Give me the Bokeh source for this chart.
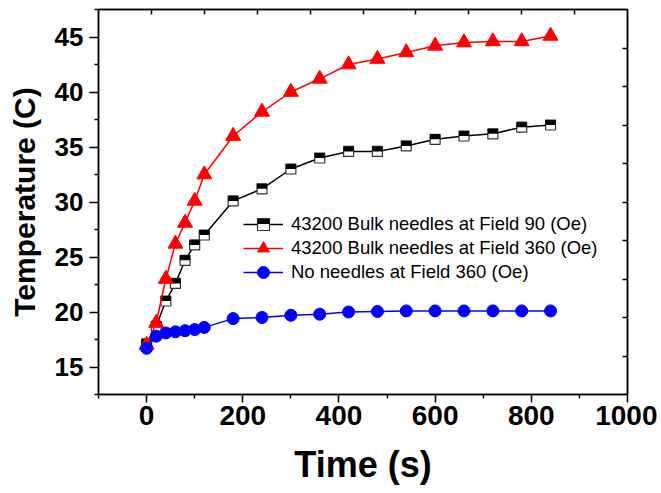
from bokeh.plotting import figure
from bokeh.models import Range1d, LinearAxis, Legend, LegendItem, FixedTicker, ColumnDataSource
from bokeh.transform import dodge
from bokeh.embed import file_html
from bokeh.resources import INLINE

# ---- data ----
time_s = [0, 20, 40, 60, 80, 100, 120, 180, 240, 300, 360, 420, 480, 540, 600, 660, 720, 780, 840]
temp_bulk_90 = [17.1, 18.7, 21.0, 22.6, 24.7, 26.1, 27.0, 30.1, 31.2, 33.0, 34.0, 34.6, 34.6, 35.1, 35.7, 36.0, 36.2, 36.8, 37.0]
temp_bulk_360 = [17.0, 19.0, 23.0, 26.2, 28.1, 30.1, 32.5, 36.0, 38.2, 40.0, 41.2, 42.5, 43.0, 43.6, 44.2, 44.5, 44.6, 44.6, 45.1]
temp_none_360 = [16.7, 17.8, 18.1, 18.2, 18.3, 18.4, 18.6, 19.4, 19.5, 19.7, 19.8, 20.0, 20.05, 20.1, 20.1, 20.1, 20.1, 20.1, 20.1]

labels = ["43200 Bulk needles at Field 90 (Oe)",
          "43200 Bulk needles at Field 360 (Oe)",
          "No needles at Field 360 (Oe)"]

x_major = [0, 200, 400, 600, 800, 1000]
x_minor = [-100, 100, 300, 500, 700, 900]
y_major = [15, 20, 25, 30, 35, 40, 45]
y_minor = [12.5, 17.5, 22.5, 27.5, 32.5, 37.5, 42.5, 47.5]
# top / right mirror axes: ten equal divisions
div_ticks = [1, 2, 3, 4, 5, 6, 7, 8, 9]

X0, X1 = -100, 1000
Y0, Y1 = 12.5, 47.5
FW, FH = 529, 385

FONT = "Liberation Sans"

p = figure(frame_width=FW, frame_height=FH,
           x_range=Range1d(X0, X1), y_range=Range1d(Y0, Y1),
           output_backend="svg", toolbar_location=None,
           min_border_left=98, min_border_right=30, min_border_top=9, min_border_bottom=0)
p.extra_x_ranges = {"div_x": Range1d(0, 10)}
p.extra_y_ranges = {"div_y": Range1d(0, 10)}
p.grid.visible = False
p.outline_line_color = "black"
p.outline_line_width = 1.5
p.background_fill_color = "white"
p.border_fill_color = "white"

def style_axis(ax, ticks, minor, show_labels, tin, tout, min_in=0, min_out=0):
    ax.ticker = FixedTicker(ticks=ticks, minor_ticks=minor)
    ax.axis_line_color = "black"
    ax.axis_line_width = 1.5
    ax.major_tick_line_width = 1.5
    ax.minor_tick_line_width = 1.5
    ax.major_tick_in = tin
    ax.major_tick_out = tout
    ax.minor_tick_in = min_in
    ax.minor_tick_out = min_out
    if not show_labels:
        ax.major_label_text_font_size = "0px"
        ax.major_label_standoff = 0
        ax.major_label_text_alpha = 0

xa = p.xaxis[0]
style_axis(xa, x_major, x_minor, True, 0, 8, 0, 4)
xa.major_label_text_font = FONT
xa.major_label_text_font_style = "bold"
xa.major_label_text_font_size = "28px"
xa.major_label_text_color = "black"
xa.major_label_standoff = 3
xa.axis_label = "Time (s)"
xa.axis_label_text_font = FONT
xa.axis_label_text_font_style = "bold"
xa.axis_label_text_font_size = "36px"
xa.axis_label_text_color = "black"
xa.axis_label_standoff = 16

ya = p.yaxis[0]
style_axis(ya, y_major, y_minor, True, 0, 9, 0, 4)
ya.major_label_text_font = FONT
ya.major_label_text_font_style = "bold"
ya.major_label_text_font_size = "26px"
ya.major_label_text_color = "black"
ya.major_label_standoff = 6
ya.axis_label = "Temperature (C)"
ya.axis_label_text_font = FONT
ya.axis_label_text_font_style = "bold"
ya.axis_label_text_font_size = "30px"
ya.axis_label_text_color = "black"
ya.axis_label_standoff = 11

top = LinearAxis(x_range_name="div_x")
style_axis(top, div_ticks, [], False, 5, 0)
p.add_layout(top, "above")
right = LinearAxis(y_range_name="div_y")
style_axis(right, div_ticks, [], False, 5, 0)
p.add_layout(right, "right")

src_b = ColumnDataSource(dict(x=time_s, y=temp_bulk_90))
src_r = ColumnDataSource(dict(x=time_s, y=temp_bulk_360))
src_n = ColumnDataSource(dict(x=time_s, y=temp_none_360))

LW = 1.5
# black: half-filled squares (white square + black upper half)
l_b = p.line("x", "y", source=src_b, line_color="black", line_width=LW)
SQ = 10
s_b = p.scatter("x", "y", source=src_b, marker="square", size=SQ,
                fill_color="white", line_color="#333333", line_width=1.2)
half_off = (SQ / 4.0) * (Y1 - Y0) / FH
h_b = p.scatter(x="x", y=dodge("y", half_off, range=p.y_range), source=src_b,
                marker="dash", size=SQ, line_width=SQ / 2.0, line_color="black",
                line_cap="butt")

# red triangles
l_r = p.line("x", "y", source=src_r, line_color="#ff0000", line_width=LW)
s_r = p.scatter("x", "y", source=src_r, marker="triangle", size=15,
                fill_color="#ff0000", line_color="#ff0000")

# blue circles
l_n = p.line("x", "y", source=src_n, line_color="#0000ff", line_width=LW)
s_n = p.scatter("x", "y", source=src_n, marker="circle", size=12,
                fill_color="#0000ff", line_color="#0000ff")

# ---- legend: one single-row legend per entry (pitch 24 px, marker size 0.4*GH) ----
GH = 30
PITCH = 24
LEG_X = 145
ROW1_BOTTOM = 155.5   # bottom of first row's box, px above the frame bottom

def make_legend(label, renderers, y):
    lg = Legend(items=[LegendItem(label=label, renderers=renderers)], location=(LEG_X, y))
    lg.border_line_alpha = 0
    lg.background_fill_alpha = 0
    lg.label_text_font = FONT
    lg.label_text_font_size = "18.5px"
    lg.label_text_color = "black"
    lg.glyph_width = 40
    lg.glyph_height = GH
    lg.label_height = 20
    lg.spacing = 0
    lg.padding = 0
    lg.margin = 0
    lg.label_standoff = 8
    p.add_layout(lg)

entries = [[l_b, s_b], [l_r, s_r], [l_n, s_n]]
for i, (lab, rends) in enumerate(zip(labels, entries)):
    make_legend(lab, rends, ROW1_BOTTOM - i * PITCH)
# upper black half of the first legend symbol
make_legend(" ", [h_b], ROW1_BOTTOM + 0.4 * GH / 4.0)

open("out.html", "w").write(file_html(p, INLINE))
